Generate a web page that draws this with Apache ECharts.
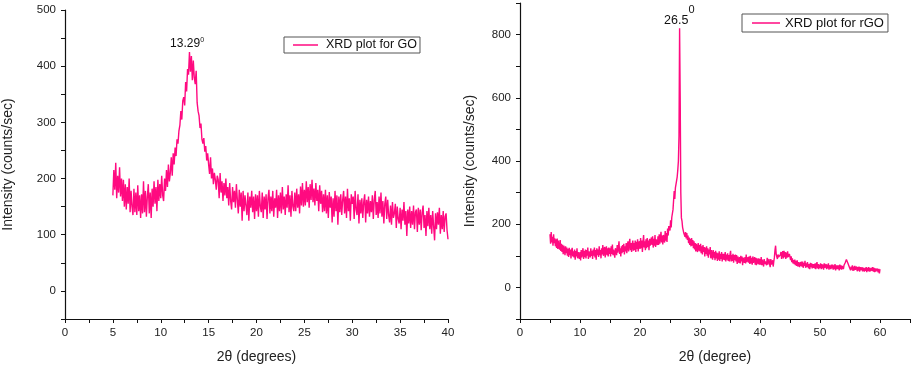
<!DOCTYPE html>
<html>
<head>
<meta charset="utf-8">
<script src="https://cdn.jsdelivr.net/npm/echarts@6/dist/echarts.min.js"></script>
<style>
html,body{margin:0;padding:0;background:#fff;}
#c{width:913px;height:369px;}
</style>
</head>
<body>
<div id="c"></div>
<script>
// ---- Data ----
// GO: 2θ from 5.0 to 40.0 in steps of 0.1 degree
var goStart = 5.0, goStep = 0.1;
var goIntensity = [
170,215,180,228,165,205,175,220,168,200,
160,198,150,190,145,185,155,200,140,178,
150,135,182,140,175,135,188,142,170,130,
172,138,195,140,178,132,168,190,138,175,
130,182,150,195,155,185,142,198,160,190,
165,205,170,160,200,178,215,185,225,195,
210,238,205,245,225,255,240,270,262,285,
295,320,305,338,345,330,372,355,395,385,
425,390,418,375,410,380,368,392,335,320,
312,290,298,270,262,272,248,258,232,245,
225,208,238,200,218,190,210,198,180,205,
198,165,210,175,195,160,192,170,200,165,
185,152,192,160,145,185,158,178,148,190,
162,138,180,150,175,125,178,142,170,152,
135,175,125,168,148,178,140,168,128,172,
142,170,132,178,150,140,175,130,168,145,
172,128,165,180,138,168,142,178,132,165,
148,180,130,170,142,175,138,185,145,168,
135,172,148,188,140,170,132,178,150,142,
175,142,182,148,172,138,186,152,192,150,
180,152,195,158,185,148,190,162,198,158,
182,152,192,160,180,142,188,155,178,140,
172,142,180,138,170,130,176,148,168,122,
165,132,178,142,170,118,168,140,172,135,
162,178,138,168,130,182,142,165,125,172,
155,168,128,178,145,135,172,120,162,138,
165,130,158,172,122,162,138,168,132,160,
140,170,128,162,178,135,158,130,168,138,
175,132,160,120,155,168,128,162,135,122,
152,118,158,130,138,155,112,150,128,120,
148,110,145,125,158,118,142,98,145,120,
150,112,142,118,152,110,140,145,105,148,
118,145,108,140,152,112,135,98,142,115,
148,110,135,102,142,115,90,138,110,140,
118,148,102,135,110,142,105,132,138,108,
92
];
// rGO: 2θ from 5.0 to 60.0 in steps of 0.1 degree
var rgoStart = 5.0, rgoStep = 0.1;
var rgoIntensity = [
168,138,175,142,160,132,168,140,155,130,
152,125,155,122,148,128,120,150,115,138,
112,135,105,132,118,102,130,108,126,100,
122,96,125,102,120,92,118,125,98,114,
95,120,88,115,98,124,92,112,118,90,
112,85,118,95,110,124,90,115,96,120,
92,118,100,126,90,114,120,95,124,100,
116,90,120,100,126,95,118,88,124,102,
120,96,130,102,118,92,124,104,134,100,
104,128,95,120,130,102,124,98,126,106,
124,98,130,106,136,102,120,126,94,124,
128,102,134,110,126,146,106,124,98,130,
108,134,112,138,104,130,114,140,108,134,
146,114,138,154,118,140,112,136,148,116,
140,118,148,112,144,122,152,114,138,146,
122,156,124,148,112,144,166,126,146,118,
152,124,156,128,148,118,154,132,126,158,
134,162,126,154,132,166,128,152,156,134,
162,134,168,138,156,176,142,164,136,166,
166,142,178,148,172,144,186,164,194,190,
180,212,190,222,220,246,252,305,280,315,
320,338,350,372,400,480,820,600,300,220,
210,190,190,172,178,160,175,155,172,150,
164,140,158,134,154,130,156,132,150,124,
146,120,140,114,138,122,112,140,116,134,
114,138,108,130,104,134,112,128,98,126,
106,130,100,124,94,120,104,128,92,118,
114,88,118,94,112,86,116,92,110,84,
108,88,114,84,106,90,112,82,106,88,
106,86,112,82,104,88,108,84,102,82,
104,116,82,102,84,106,78,102,86,104,
82,102,74,98,104,78,96,76,100,82,
98,70,94,100,78,96,76,104,80,74,
96,78,98,74,100,76,94,72,98,78,
76,96,72,94,70,92,98,74,92,72,
90,72,96,70,88,94,66,90,74,82,
88,70,94,72,66,90,74,64,90,72,
70,86,66,82,95,118,132,105,104,90,
104,96,100,92,104,112,90,108,115,92,
116,96,112,90,110,94,114,96,90,106,
102,86,98,80,92,76,86,74,88,70,
84,68,86,66,80,86,64,80,68,82,
66,82,62,78,68,84,62,76,64,80,
76,60,74,58,78,64,76,60,74,62,
74,60,76,58,72,80,60,74,58,72,
62,76,58,74,60,72,56,76,62,68,
74,58,72,60,76,56,70,74,58,72,
60,72,56,70,58,74,54,70,58,70,
58,70,54,72,58,70,56,68,74,58,
70,66,78,76,88,84,86,74,76,64,
68,54,66,56,70,52,66,54,68,56,
54,66,51,64,53,66,50,64,54,60,
64,51,62,66,50,62,52,64,48,62,
52,64,50,62,51,48,62,52,64,50,
62,48,60,50,46,60,62,48,59,44,
58
];
var seriesNames = ['XRD plot for GO', 'XRD plot for rGO'];
var xTitles = ['2\u03B8 (degrees)', '2\u03B8 (degree)'];
var yTitle = 'Intensity (counts/sec)';
var peakGO = {label: '13.29', labelAt: [12.75, 441]};
var peakRGO = {label: '26.5', labelAt: [26.55, 860]};

function pairs(start, step, vals) {
  return vals.map(function (v, i) { return [+(start + i * step).toFixed(2), v]; });
}

var FONT = 'Liberation Sans, Arial, sans-serif';
var LINE = '#ff0a80';
var chart = echarts.init(document.getElementById('c'), null, {renderer: 'canvas'});

function yAxisCommon(min, max, interval, labelEvery, gap) {
  return {
    type: 'value', min: min, max: max, interval: interval,
    name: yTitle, nameLocation: 'middle', nameGap: gap, nameRotate: 90,
    nameTextStyle: {fontFamily: FONT, fontSize: 14, color: '#222'},
    axisLine: {show: true, lineStyle: {color: '#111', width: 1.2}},
    axisTick: {show: true, length: 4, inside: false, lineStyle: {color: '#111'}},
    axisLabel: {
      fontFamily: FONT, fontSize: 11.5, color: '#222', margin: 9,
      formatter: function (v) { return (v >= 0 && v % labelEvery === 0) ? String(v) : ''; }
    },
    splitLine: {show: false}
  };
}
function xAxisCommon(idx, min, max, interval, labelEvery, title) {
  return {
    gridIndex: idx, type: 'value', min: min, max: max, interval: interval,
    name: title, nameLocation: 'middle', nameGap: 31,
    nameTextStyle: {fontFamily: FONT, fontSize: 14, color: '#222'},
    axisLine: {show: true, onZero: false, lineStyle: {color: '#111', width: 1.2}},
    axisTick: {show: true, length: 4, lineStyle: {color: '#111'}},
    axisLabel: {
      fontFamily: FONT, fontSize: 11.5, color: '#222', margin: 8,
      formatter: function (v) { return v % labelEvery === 0 ? String(v) : ''; }
    },
    splitLine: {show: false}
  };
}

var yL = yAxisCommon(-50, 500, 50, 100, 50); yL.gridIndex = 0;
var yR = yAxisCommon(-100, 900, 100, 200, 43); yR.gridIndex = 1;
var yRfmt = yR.axisLabel.formatter;
yR.axisLabel.formatter = function (v) { return v >= 900 ? '' : yRfmt(v); };

var option = {
  animation: false,
  backgroundColor: '#fff',
  textStyle: {fontFamily: FONT},
  grid: [
    {left: 65, top: 10, width: 383, height: 311},
    {left: 520, top: 3, width: 391, height: 318}
  ],
  xAxis: [
    xAxisCommon(0, 0, 40, 2.5, 5, xTitles[0]),
    xAxisCommon(1, 0, 65, 5, 10, xTitles[1])
  ],
  yAxis: [yL, yR],
  legend: [
    {
      data: [{name: seriesNames[0], icon: 'rect'}], left: 284, top: 37,
      orient: 'horizontal', itemWidth: 25, itemHeight: 1.5, itemGap: 0,
      padding: [1, 3, 1, 9], borderColor: '#555', borderWidth: 1,
      textStyle: {fontFamily: FONT, fontSize: 12.5, color: '#111', lineHeight: 14, padding: [0, 0, 0, 3]}
    },
    {
      data: [{name: seriesNames[1], icon: 'rect'}], left: 742, top: 14,
      orient: 'horizontal', itemWidth: 28, itemHeight: 1.5, itemGap: 0,
      padding: [2, 4, 2, 10], borderColor: '#555', borderWidth: 1,
      textStyle: {fontFamily: FONT, fontSize: 13, color: '#111', lineHeight: 14}
    }
  ],
  series: [
    {
      name: seriesNames[0], type: 'line', xAxisIndex: 0, yAxisIndex: 0,
      data: pairs(goStart, goStep, goIntensity),
      symbol: 'none', showSymbol: false,
      lineStyle: {color: LINE, width: 1.4}, itemStyle: {color: LINE},
      markPoint: {
        symbol: 'circle', symbolSize: 0, silent: true,
        label: {
          show: true, position: 'inside', fontFamily: FONT, color: '#111',
          formatter: '{a|' + peakGO.label + '}{b|0}',
          rich: {
            a: {fontSize: 12, fontFamily: FONT, color: '#111', lineHeight: 13, verticalAlign: 'bottom'},
            b: {fontSize: 7, fontFamily: FONT, color: '#111', lineHeight: 13, verticalAlign: 'top'}
          }
        },
        data: [{coord: peakGO.labelAt}]
      }
    },
    {
      name: seriesNames[1], type: 'line', xAxisIndex: 1, yAxisIndex: 1,
      data: pairs(rgoStart, rgoStep, rgoIntensity),
      symbol: 'none', showSymbol: false,
      lineStyle: {color: LINE, width: 1.4}, itemStyle: {color: LINE},
      markPoint: {
        symbol: 'circle', symbolSize: 0, silent: true,
        label: {
          show: true, position: 'inside', fontFamily: FONT, color: '#111',
          formatter: '{a|' + peakRGO.label + '}{b|0}',
          rich: {
            a: {fontSize: 12.5, fontFamily: FONT, color: '#111', lineHeight: 22, verticalAlign: 'bottom'},
            b: {fontSize: 11, fontFamily: FONT, color: '#111', lineHeight: 12, verticalAlign: 'top'}
          }
        },
        data: [{coord: peakRGO.labelAt}]
      }
    }
  ]
};
chart.setOption(option);
</script>
</body>
</html>
